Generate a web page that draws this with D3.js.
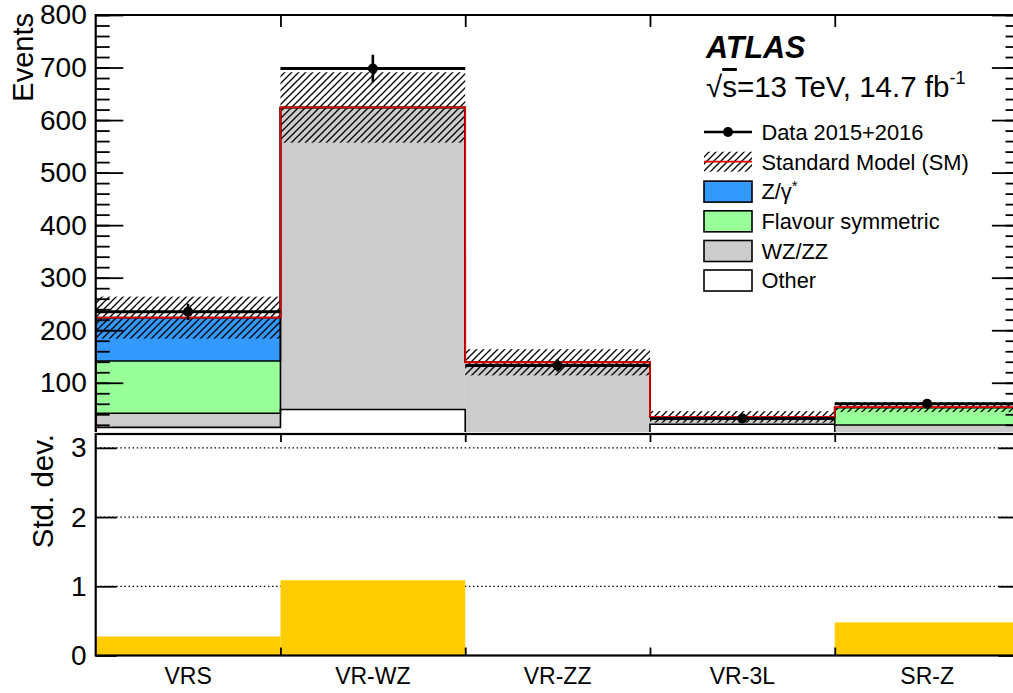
<!DOCTYPE html>
<html>
<head>
<meta charset="utf-8">
<script src="https://cdn.jsdelivr.net/npm/d3@7"></script>
<style>
  html, body { margin: 0; padding: 0; background: #fff; }
  svg { display: block; font-family: "Liberation Sans", Arial, Helvetica, sans-serif; }
</style>
</head>
<body>
<svg id="chart" width="1013" height="693"></svg>
<script>
// ---------------- data ----------------
const categories = ["VRS", "VR-WZ", "VR-ZZ", "VR-3L", "SR-Z"];
const dataObs    = [235, 698, 133, 32, 60];
const bkgOther   = [15, 49, 3, 21, 3];
const bkgWZZZ    = [27, 575, 136, 14, 16.5];
const bkgFlavSym = [99.5, 0, 0, 0, 33];
const bkgZgamma  = [82.5, 0, 0, 0, 1];
const smErr      = [40, 67, 25, 11, 9.3];
const stdDev     = [0.275, 1.087, 0, 0, 0.478];
const yTicksMain  = [100, 200, 300, 400, 500, 600, 700, 800];
const yTicksRatio = [0, 1, 2, 3];
const legendLabels = ["Data 2015+2016", "Standard Model (SM)", "Z/γ*", "Flavour symmetric", "WZ/ZZ", "Other"];

// ---------------- layout ----------------
const X0 = 95.7, X1 = 1019.5;
const TOP = 15, MAIN_BOT = 432;
const R_TOP = 434, R_BOT = 655.5;
const colors = { other: "#ffffff", wzzz: "#cccccc", flav: "#99ff99", zg: "#3399ff", sig: "#ffcc00" };

const svg = d3.select("#chart");
svg.append("rect").attr("width", 1013).attr("height", 693).attr("fill", "#fff");

const defs = svg.append("defs");
const pat = defs.append("pattern").attr("id", "hatch").attr("patternUnits", "userSpaceOnUse")
  .attr("width", 7).attr("height", 7);
pat.append("path").attr("d", "M-1,1 l2,-2 M0,7 l7,-7 M6,8 l2,-2")
  .attr("stroke", "#000").attr("stroke-width", 1.3);
defs.append("clipPath").attr("id", "clipMain").append("rect")
  .attr("x", X0).attr("y", TOP).attr("width", X1 - X0).attr("height", MAIN_BOT - TOP);
defs.append("clipPath").attr("id", "clipRatio").append("rect")
  .attr("x", X0).attr("y", R_TOP).attr("width", X1 - X0).attr("height", R_BOT - R_TOP);

const x = d3.scaleBand().domain(categories).range([X0, X1]).padding(0);
const xe = d3.scaleLinear().domain([0, categories.length]).range([X0, X1]);
const y = d3.scaleLinear().domain([0, 800]).range([435.3, TOP]);
const yr = d3.scaleLinear().domain([0, 3.2]).range([R_BOT, R_TOP]);

// stacked backgrounds
const rows = categories.map((c, i) => ({ cat: c, other: bkgOther[i], wzzz: bkgWZZZ[i], flav: bkgFlavSym[i], zg: bkgZgamma[i] }));
const keys = ["other", "wzzz", "flav", "zg"];
const stacked = d3.stack().keys(keys)(rows);
const total = rows.map(r => r.other + r.wzzz + r.flav + r.zg);

const main = svg.append("g").attr("clip-path", "url(#clipMain)");

// fills
stacked.forEach(layer => {
  main.append("g").selectAll("rect").data(layer).join("rect")
    .attr("x", d => x(d.data.cat))
    .attr("width", x.bandwidth())
    .attr("y", d => y(d[1]))
    .attr("height", d => Math.max(0, y(d[0]) - y(d[1])))
    .attr("fill", colors[layer.key]);
});
// outlines (ROOT-style steps)
function stepPath(vals) {
  let p = `M${X0},${y(0)}`;
  vals.forEach((v, i) => {
    p += `V${y(v)}H${xe(i + 1)}`;
  });
  p += `V${y(0)}`;
  return p;
}
stacked.forEach(layer => {
  main.append("path").attr("d", stepPath(layer.map(d => d[1])))
    .attr("fill", "none").attr("stroke", "#000").attr("stroke-width", 1.6);
});
// hatched uncertainty
main.append("g").selectAll("rect").data(categories).join("rect")
  .attr("x", d => x(d)).attr("width", x.bandwidth())
  .attr("y", (d, i) => y(total[i] + smErr[i]))
  .attr("height", (d, i) => y(total[i] - smErr[i]) - y(total[i] + smErr[i]))
  .attr("fill", "url(#hatch)");
// red SM total
main.append("path").attr("d", stepPath(total))
  .attr("fill", "none").attr("stroke", "#e00000").attr("stroke-width", 1.8);

// data
const dg = main.append("g");
dg.selectAll("line.h").data(categories).join("line").attr("class", "h")
  .attr("x1", d => x(d)).attr("x2", d => x(d) + x.bandwidth())
  .attr("y1", (d, i) => y(dataObs[i])).attr("y2", (d, i) => y(dataObs[i]))
  .attr("stroke", "#000").attr("stroke-width", 3);
dg.selectAll("line.v").data(categories).join("line").attr("class", "v")
  .attr("x1", d => x(d) + x.bandwidth() / 2).attr("x2", d => x(d) + x.bandwidth() / 2)
  .attr("y1", (d, i) => y(dataObs[i] + Math.sqrt(dataObs[i])))
  .attr("y2", (d, i) => y(dataObs[i] - Math.sqrt(dataObs[i])))
  .attr("stroke", "#000").attr("stroke-width", 2.6);
dg.selectAll("circle").data(categories).join("circle")
  .attr("cx", d => x(d) + x.bandwidth() / 2).attr("cy", (d, i) => y(dataObs[i]))
  .attr("r", 5).attr("fill", "#000");

// ---------------- axes main ----------------
const fontTick = 28;
function styleAxis(g) {
  g.select(".domain").remove();
  g.selectAll(".tick line").attr("stroke", "#000").attr("stroke-width", 1.8);
  g.selectAll(".tick text").attr("font-size", fontTick).attr("fill", "#000")
    .attr("font-family", "Liberation Sans, Arial, sans-serif");
}
svg.append("g").attr("transform", `translate(${X0},0)`)
  .call(d3.axisLeft(y).tickValues(d3.range(20, 801, 20)).tickSize(-14).tickFormat(""))
  .call(styleAxis);
svg.append("g").attr("transform", `translate(${X0},0)`)
  .call(d3.axisLeft(y).tickValues(yTicksMain).tickSize(-27.6).tickPadding(9).tickFormat(d3.format("d")))
  .call(styleAxis);
svg.append("g").attr("transform", `translate(${X1},0)`)
  .call(d3.axisRight(y).tickValues(d3.range(20, 801, 20)).tickSize(-14).tickFormat(""))
  .call(styleAxis);
svg.append("g").attr("transform", `translate(${X1},0)`)
  .call(d3.axisRight(y).tickValues(yTicksMain).tickSize(-27.6).tickFormat(""))
  .call(styleAxis);
svg.append("g").attr("transform", `translate(0,${TOP})`)
  .call(d3.axisTop(xe).tickValues([1, 2, 3, 4]).tickSize(-12).tickFormat(""))
  .call(styleAxis);
// frame lines of main pad
svg.append("path").attr("d", `M${X0},${MAIN_BOT}V${TOP}H${X1}V${MAIN_BOT}`)
  .attr("fill", "none").attr("stroke", "#000").attr("stroke-width", 2.2);

// ---------------- ratio pad ----------------
const rg = svg.append("g").attr("clip-path", "url(#clipRatio)");
rg.selectAll("line.grid").data([1, 2, 3]).join("line").attr("class", "grid")
  .attr("x1", X0).attr("x2", X1).attr("y1", d => yr(d)).attr("y2", d => yr(d))
  .attr("stroke", "#000").attr("stroke-width", 1.2).attr("stroke-dasharray", "1.5,2.6");
rg.selectAll("rect.sig").data(categories).join("rect").attr("class", "sig")
  .attr("x", d => x(d)).attr("width", x.bandwidth())
  .attr("y", (d, i) => yr(Math.max(0, stdDev[i])))
  .attr("height", (d, i) => yr(0) - yr(Math.max(0, stdDev[i])))
  .attr("fill", colors.sig);

svg.append("g").attr("transform", `translate(${X0},0)`)
  .call(d3.axisLeft(yr).tickValues(yTicksRatio).tickSize(-21).tickPadding(9).tickFormat(d3.format("d")))
  .call(styleAxis);
svg.append("g").attr("transform", `translate(${X1},0)`)
  .call(d3.axisRight(yr).tickValues(yTicksRatio).tickSize(-21).tickFormat(""))
  .call(styleAxis);
svg.append("g").attr("transform", `translate(0,${R_TOP})`)
  .call(d3.axisTop(xe).tickValues([1, 2, 3, 4]).tickSize(-8).tickFormat(""))
  .call(styleAxis);
svg.append("g").attr("transform", `translate(0,${R_BOT})`)
  .call(d3.axisBottom(xe).tickValues([1, 2, 3, 4]).tickSize(-8).tickFormat(""))
  .call(styleAxis);
svg.append("rect").attr("x", X0).attr("y", R_TOP).attr("width", X1 - X0).attr("height", R_BOT - R_TOP)
  .attr("fill", "none").attr("stroke", "#000").attr("stroke-width", 2.2);

// category labels
const catAxis = svg.append("g").attr("transform", `translate(0,${R_BOT})`)
  .call(d3.axisBottom(x).tickSize(0).tickPadding(12));
catAxis.select(".domain").remove();
catAxis.selectAll(".tick text").attr("font-size", 23).attr("fill", "#000")
  .attr("font-family", "Liberation Sans, Arial, sans-serif");

// axis titles
svg.append("text").attr("transform", "translate(33,13) rotate(-90)")
  .attr("text-anchor", "end").attr("font-size", 29).text("Events");
svg.append("text").attr("transform", `translate(53,${R_TOP}) rotate(-90)`)
  .attr("text-anchor", "end").attr("font-size", 29.5).text("Std. dev.");

// ---------------- labels & legend ----------------
svg.append("text").attr("x", 706).attr("y", 58).attr("font-size", 30.5)
  .attr("font-weight", "bold").attr("font-style", "italic").text("ATLAS");
const lumi = svg.append("text").attr("x", 706).attr("y", 97).attr("font-size", 29.5);
lumi.append("tspan").text("√");
lumi.append("tspan").attr("text-decoration", "overline").text("s");
lumi.append("tspan").text("=13 TeV, 14.7 fb");
lumi.append("tspan").attr("font-size", 18).attr("dy", -13).text("-1");

const legY = [132, 161.7, 191.6, 221.3, 251, 280.5];
const LX0 = 704, LX1 = 752, LTX = 761.5;
const lg = svg.append("g");
// Data
lg.append("line").attr("x1", LX0).attr("x2", LX1).attr("y1", legY[0]).attr("y2", legY[0])
  .attr("stroke", "#000").attr("stroke-width", 2.6);
lg.append("circle").attr("cx", (LX0 + LX1) / 2).attr("cy", legY[0]).attr("r", 5).attr("fill", "#000");
// SM
lg.append("rect").attr("x", LX0).attr("y", legY[1] - 10).attr("width", LX1 - LX0).attr("height", 20)
  .attr("fill", "url(#hatch)");
lg.append("line").attr("x1", LX0).attr("x2", LX1).attr("y1", legY[1]).attr("y2", legY[1])
  .attr("stroke", "#e00000").attr("stroke-width", 1.8);
// boxes
[colors.zg, colors.flav, colors.wzzz, colors.other].forEach((c, k) => {
  lg.append("rect").attr("x", LX0).attr("y", legY[k + 2] - 10.5).attr("width", LX1 - LX0).attr("height", 21)
    .attr("fill", c).attr("stroke", "#000").attr("stroke-width", 1.6);
});
legendLabels.forEach((t, k) => {
  const txt = lg.append("text").attr("x", LTX).attr("y", legY[k] + 7.8).attr("font-size", 21.8);
  if (t === "Z/γ*") {
    txt.append("tspan").text("Z/γ");
    txt.append("tspan").attr("font-size", 15).attr("dy", -8).text("*");
  } else {
    txt.text(t);
  }
});
</script>
</body>
</html>
